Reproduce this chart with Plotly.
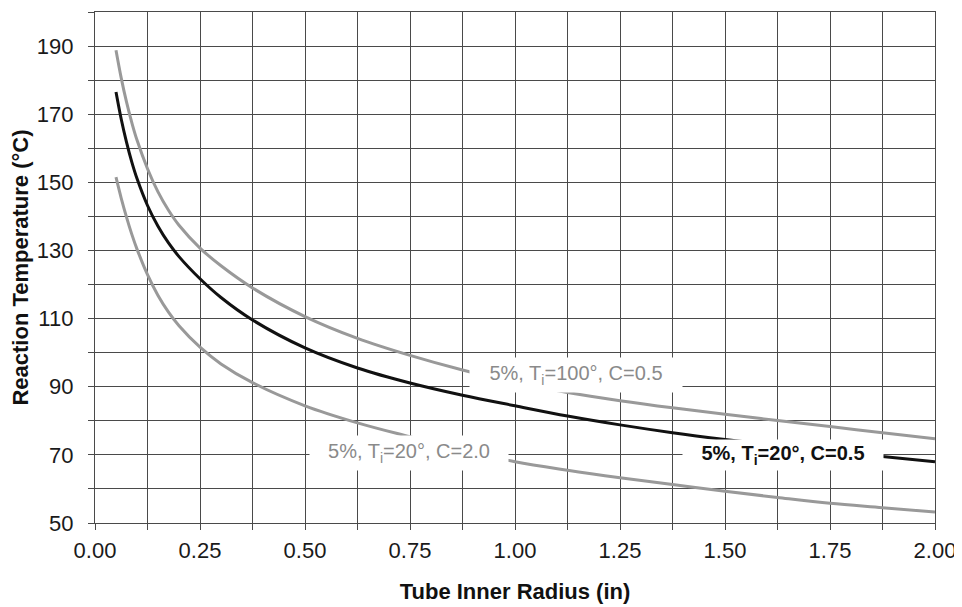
import plotly.graph_objects as go

# Tube inner radius (in) and reaction temperature (°C)
radius_ti20_c05 = [0.05, 0.0625, 0.075, 0.0875, 0.1, 0.125, 0.15, 0.175, 0.2, 0.25, 0.3, 0.375, 0.5,
                   0.625, 0.75, 0.875, 1.0, 1.125, 1.25, 1.375, 1.5, 1.625, 1.75, 1.875, 2.0]
temp_ti20_c05 = [176.5, 168.5, 161.8, 156.0, 151.1, 143.2, 137.1, 132.2, 128.2, 121.7, 116.2, 109.6, 101.4,
                 95.5, 91.1, 87.5, 84.4, 81.4, 78.8, 76.5, 74.5, 72.7, 71.0, 69.5, 68.0]

radius_ti100_c05 = [0.05, 0.0625, 0.075, 0.0875, 0.1, 0.125, 0.15, 0.175, 0.2, 0.25, 0.3, 0.375, 0.5,
                    0.625, 0.75, 0.875, 1.0, 1.125, 1.25, 1.375, 1.5, 1.625, 1.75, 1.875, 2.0]
temp_ti100_c05 = [188.8, 180.6, 173.6, 167.6, 162.4, 154.0, 147.2, 141.8, 137.4, 130.7, 125.5, 119.0, 110.6,
                  104.2, 99.2, 94.9, 91.2, 88.3, 85.9, 83.8, 81.9, 80.1, 78.3, 76.5, 74.7]

radius_ti20_c20 = [0.05, 0.0625, 0.075, 0.0875, 0.1, 0.125, 0.15, 0.175, 0.2, 0.25, 0.3, 0.375, 0.5,
                   0.625, 0.75, 0.875, 1.0, 1.125, 1.25, 1.375, 1.5, 1.625, 1.75, 1.875, 2.0]
temp_ti20_c20 = [151.5, 145.3, 139.8, 134.8, 130.4, 122.9, 116.8, 111.9, 107.9, 101.6, 96.7, 91.2, 84.4,
                 79.4, 75.3, 71.4, 68.0, 65.5, 63.3, 61.3, 59.3, 57.5, 55.8, 54.5, 53.2]

x_tick_vals = [0.0, 0.25, 0.5, 0.75, 1.0, 1.25, 1.5, 1.75, 2.0]
x_tick_text = ["0.00", "0.25", "0.50", "0.75", "1.00", "1.25", "1.50", "1.75", "2.00"]
y_tick_vals = [50, 70, 90, 110, 130, 150, 170, 190]

label_ti100 = "5%, T<sub>i</sub>=100°, C=0.5"
label_ti20_c20 = "5%, T<sub>i</sub>=20°, C=2.0"
label_ti20_c05 = "<b>5%, T<sub>i</sub>=20°, C=0.5</b>"

FONT = "Liberation Sans, Arial, sans-serif"
GRID = "#4a4a4a"
GRAY = "#999999"

fig = go.Figure()
fig.add_trace(go.Scatter(x=radius_ti100_c05, y=temp_ti100_c05, mode="lines",
                         line=dict(color=GRAY, width=3, shape="spline", smoothing=1.0),
                         name="5%, Ti=100°, C=0.5", showlegend=False))
fig.add_trace(go.Scatter(x=radius_ti20_c20, y=temp_ti20_c20, mode="lines",
                         line=dict(color=GRAY, width=3, shape="spline", smoothing=1.0),
                         name="5%, Ti=20°, C=2.0", showlegend=False))
fig.add_trace(go.Scatter(x=radius_ti20_c05, y=temp_ti20_c05, mode="lines",
                         line=dict(color="#111111", width=3, shape="spline", smoothing=1.0),
                         name="5%, Ti=20°, C=0.5", showlegend=False))

fig.add_annotation(x=1.146, y=93.5, xref="x", yref="y", text=label_ti100, showarrow=False,
                   font=dict(family=FONT, size=20, color="#8a8a8a"),
                   bgcolor="white", width=212, height=34, borderpad=0)
fig.add_annotation(x=0.748, y=70.6, xref="x", yref="y", text=label_ti20_c20, showarrow=False,
                   font=dict(family=FONT, size=20, color="#8a8a8a"),
                   bgcolor="white", width=198, height=34, borderpad=0)
fig.add_annotation(x=1.638, y=70.0, xref="x", yref="y", text=label_ti20_c05, showarrow=False,
                   font=dict(family=FONT, size=20, color="#111111"),
                   bgcolor="white", width=200, height=30, borderpad=0)

axis_common = dict(showgrid=True, gridcolor=GRID, gridwidth=1.3, zeroline=False,
                   showline=True, linecolor=GRID, linewidth=1.3, mirror=True,
                   ticks="outside", ticklen=6, tickcolor=GRID, tickwidth=1.3,
                   automargin=False,
                   tickfont=dict(family=FONT, size=22, color="#1a1a1a"))

fig.update_xaxes(range=[0, 2], tickvals=x_tick_vals, ticktext=x_tick_text,
                 minor=dict(dtick=0.125, tick0=0, showgrid=True, gridcolor=GRID, gridwidth=1.3,
                            ticks="outside", ticklen=6, tickcolor=GRID, tickwidth=1.3),
                 ticklabelstandoff=1,
                 title=dict(text="<b>Tube Inner Radius (in)</b>", standoff=22,
                            font=dict(family=FONT, size=22, color="#111111")),
                 **axis_common)
fig.update_yaxes(range=[50, 200], tickvals=y_tick_vals,
                 minor=dict(dtick=10, tick0=50, showgrid=True, gridcolor=GRID, gridwidth=1.3,
                            ticks="outside", ticklen=6, tickcolor=GRID, tickwidth=1.3),
                 ticklabelstandoff=10,
                 title=dict(text="<b>Reaction Temperature (°C)</b>", standoff=2,
                            font=dict(family=FONT, size=22, color="#111111")),
                 **axis_common)

# The page puts the figure 8 px in from the top-left corner, so the figure is
# sized and its margins set to land the plot area where the reference has it.
fig.update_layout(width=954, height=599, margin=dict(l=87, r=27, t=4, b=84),
                  paper_bgcolor="white", plot_bgcolor="white", showlegend=False)

fig.write_html("out.html")
